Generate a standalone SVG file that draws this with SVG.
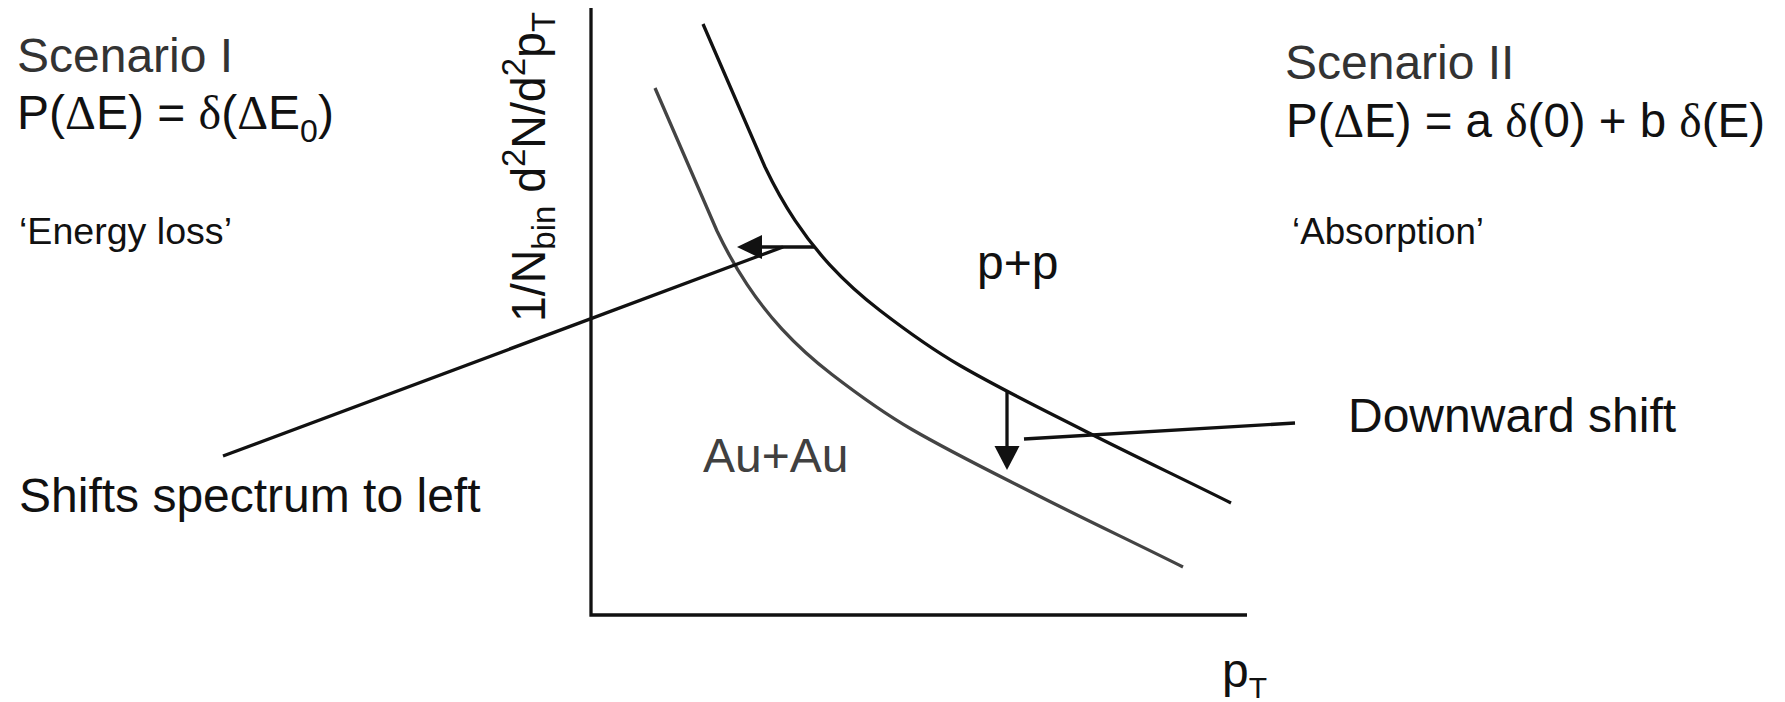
<svg xmlns="http://www.w3.org/2000/svg" width="1785" height="702" viewBox="0 0 1785 702">
<style>
text{font-family:"Liberation Sans",Arial,sans-serif;fill:#111}
.big{font-size:48px}
.small{font-size:36px}
.gray{fill:#333}
.sym{font-family:"Liberation Serif","Times New Roman",serif}
.curve{fill:none;stroke:#111;stroke-width:3.3}
.curve2{fill:none;stroke:#444;stroke-width:3.3}
.line{fill:none;stroke:#111;stroke-width:3.3}
</style>
<defs>
<path id="spectrum" d="M703,24 L765,167 C775,187.96 785,205.35 795,220.4 C806.67,237.96 818.33,252.43 830,265.1 C846.67,283.2 863.33,297.67 880,310.5 C906.67,331.03 933.33,350.1 960,365.5 C1001.67,389.6 1043.33,409.75 1085,431 C1133.67,455.8 1182.33,478.62 1231,503"/>
</defs>
<g id="axes">
<path class="line" d="M591,8 V615 H1247"/>
</g>
<g id="pp-curve">
<use href="#spectrum" class="curve"/>
</g>
<g id="auau-curve">
<use href="#spectrum" class="curve2" transform="translate(-48,64)"/>
</g>
<g id="connectors">
<line class="line" x1="815" y1="247" x2="760" y2="247"/>
<polygon points="737,247 762,235 762,259" fill="#111"/>
<line class="line" x1="223" y1="456" x2="783" y2="247"/>
<line class="line" x1="1007" y1="391" x2="1007" y2="448"/>
<polygon points="1007,470 994.5,446 1019.5,446" fill="#111"/>
<line class="line" x1="1024" y1="439" x2="1295" y2="423"/>
</g>
<g id="scenario1">
<text class="big gray" x="17" y="72">Scenario I</text>
<text class="big" x="17" y="129">P(<tspan class="sym">Δ</tspan>E) = <tspan class="sym">δ</tspan>(<tspan class="sym">Δ</tspan>E<tspan font-size="32" dy="13">0</tspan><tspan dy="-13">)</tspan></text>
<text class="small" x="19" y="244" textLength="213" lengthAdjust="spacingAndGlyphs">‘Energy loss’</text>
</g>
<g id="scenario2">
<text class="big gray" x="1285" y="79">Scenario II</text>
<text class="big" x="1286" y="137" textLength="479" lengthAdjust="spacingAndGlyphs">P(<tspan class="sym">Δ</tspan>E) = a <tspan class="sym">δ</tspan>(0) + b <tspan class="sym">δ</tspan>(E)</text>
<text class="small" x="1292" y="244" textLength="192" lengthAdjust="spacingAndGlyphs">‘Absorption’</text>
</g>
<g id="ylabel">
<text class="big" transform="rotate(-90 545 322)" x="545" y="322" font-size="52" textLength="310" lengthAdjust="spacingAndGlyphs">1/N<tspan font-size="34" dy="10">bin</tspan><tspan dy="-10">  d</tspan><tspan font-size="34" dy="-20">2</tspan><tspan dy="20">N/d</tspan><tspan font-size="34" dy="-20">2</tspan><tspan dy="20">p</tspan><tspan font-size="34" dy="10">T</tspan></text>
</g>
<g id="xlabel">
<text class="big" x="1222" y="687">p<tspan font-size="30" dy="11">T</tspan></text>
</g>
<g id="label-pp">
<text class="big" x="977" y="279">p+p</text>
</g>
<g id="label-auau">
<text class="big" x="703" y="472" style="fill:#404040">Au+Au</text>
</g>
<g id="label-shift-left">
<text class="big" x="19" y="512">Shifts spectrum to left</text>
</g>
<g id="label-downward">
<text class="big" x="1348" y="432">Downward shift</text>
</g>
</svg>
